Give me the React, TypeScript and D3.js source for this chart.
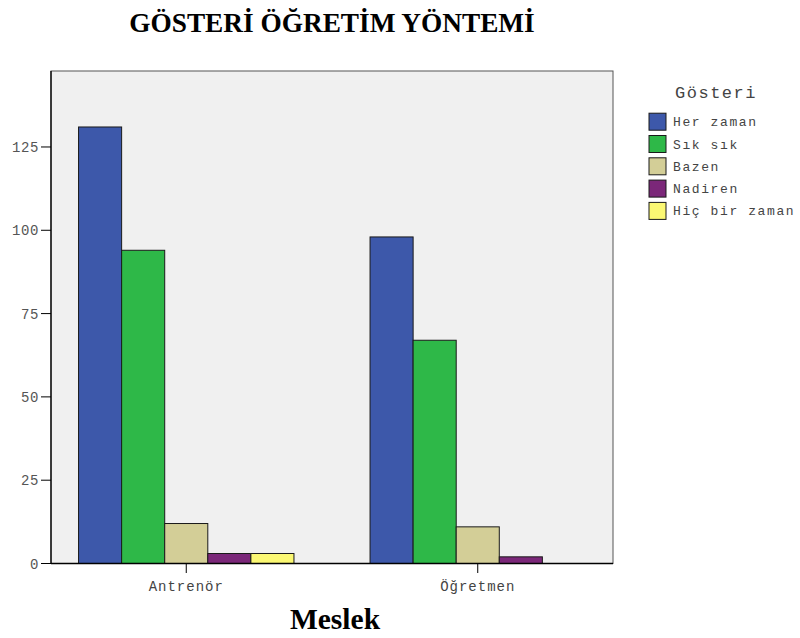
import React from "react";
import * as d3 from "d3";

const categories = ["Antrenör", "Öğretmen"];
const seriesNames = ["Her zaman", "Sık sık", "Bazen", "Nadiren", "Hiç bir zaman"];
const antrenorValues = [131, 94, 12, 3, 3];
const ogretmenValues = [98, 67, 11, 2, 0];
const seriesColors = ["#3d58aa", "#2eb848", "#d3ce97", "#7b2779", "#fbf873"];
const yTicks = [0, 25, 50, 75, 100, 125];

const W = 800;
const H = 638;
const plot = { left: 51, right: 613, top: 71, bottom: 563.5 };

export default function App() {
  const values = [antrenorValues, ogretmenValues];
  const x = d3
    .scaleBand<string>()
    .domain(categories)
    .range([plot.left, plot.right])
    .paddingInner(0.261)
    .paddingOuter(0.0945);
  const xs = d3.scaleBand<string>().domain(seriesNames).range([0, x.bandwidth()]).padding(0);
  const y = d3.scaleLinear().domain([0, 147.8]).range([plot.bottom, plot.top]);
  const mono = "'Liberation Mono', 'DejaVu Sans Mono', monospace";

  return (
    <svg width={W} height={H} style={{ position: "absolute", left: 0, top: 0 }}>
      <rect x={0} y={0} width={W} height={H} fill="#ffffff" />
      <text
        x={332}
        y={32}
        textAnchor="middle"
        fontFamily="'Liberation Serif', 'Times New Roman', serif"
        fontWeight="bold"
        fontSize={27.3}
        fill="#000"
      >
        GÖSTERİ ÖĞRETİM YÖNTEMİ
      </text>
      <rect
        x={plot.left}
        y={plot.top}
        width={plot.right - plot.left}
        height={plot.bottom - plot.top}
        fill="#f0f0f0"
        stroke="#555"
        strokeWidth={1}
      />
      {categories.map((c, ci) =>
        seriesNames.map((s, si) => {
          const v = values[ci][si];
          if (v <= 0) return null;
          const bx = (x(c) as number) + (xs(s) as number);
          return (
            <rect
              key={c + s}
              x={bx}
              y={y(v)}
              width={xs.bandwidth()}
              height={y(0) - y(v)}
              fill={seriesColors[si]}
              stroke="#1a1a1a"
              strokeWidth={1}
            />
          );
        })
      )}
      <line x1={plot.left} y1={plot.top} x2={plot.left} y2={plot.bottom} stroke="#000" strokeWidth={1.3} />
      <line x1={plot.left} y1={plot.bottom} x2={plot.right} y2={plot.bottom} stroke="#000" strokeWidth={1.3} />
      {yTicks.map((t) => (
        <g key={t}>
          <line x1={41} x2={plot.left} y1={y(t)} y2={y(t)} stroke="#000" strokeWidth={1} />
          <text
            x={39}
            y={y(t) + 5}
            textAnchor="end"
            fontFamily={mono}
            fontSize={14}
            letterSpacing={0.6}
            fill="#555"
          >
            {t}
          </text>
        </g>
      ))}
      {categories.map((c) => {
        const cx = (x(c) as number) + x.bandwidth() / 2;
        return (
          <g key={c}>
            <line x1={cx} x2={cx} y1={plot.bottom} y2={573} stroke="#000" strokeWidth={1} />
            <text
              x={cx}
              y={591}
              textAnchor="middle"
              fontFamily={mono}
              fontSize={14}
              letterSpacing={1}
              fill="#444"
            >
              {c}
            </text>
          </g>
        );
      })}
      <text
        x={335}
        y={629}
        textAnchor="middle"
        fontFamily="'Liberation Serif', 'Times New Roman', serif"
        fontWeight="bold"
        fontSize={29.5}
        fill="#000"
      >
        Meslek
      </text>
      <text
        x={716}
        y={98}
        textAnchor="middle"
        fontFamily={mono}
        fontSize={17}
        letterSpacing={1.5}
        fill="#444"
      >
        Gösteri
      </text>
      {seriesNames.map((s, i) => {
        const cy = 121.7 + i * 22.3;
        return (
          <g key={s}>
            <rect x={649} y={cy - 8.5} width={17} height={17} fill={seriesColors[i]} stroke="#1a1a1a" strokeWidth={1} />
            <text x={673} y={cy + 4.5} fontFamily={mono} fontSize={13} letterSpacing={1.6} fill="#444">
              {s}
            </text>
          </g>
        );
      })}
    </svg>
  );
}
